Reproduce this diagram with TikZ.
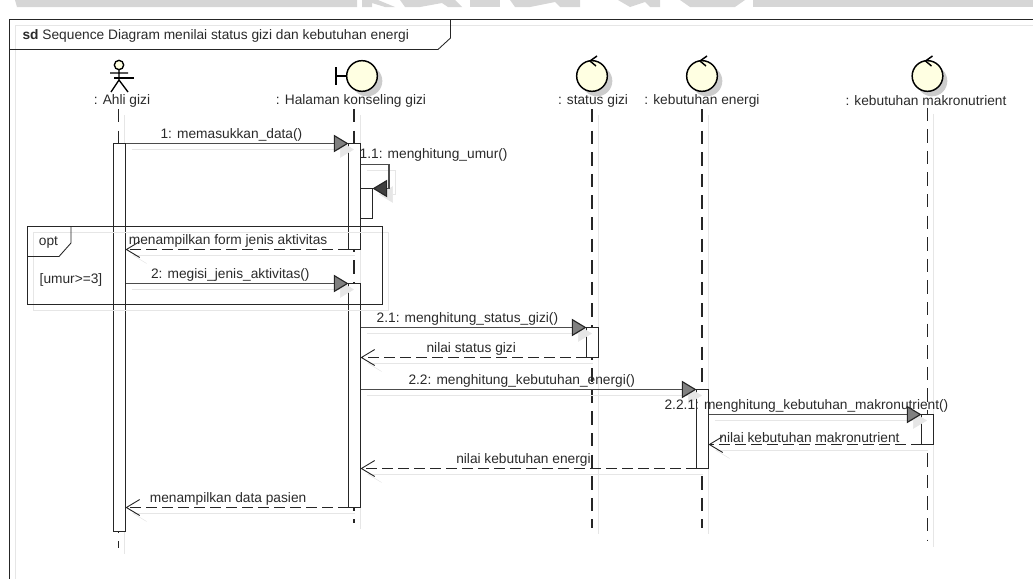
\documentclass[tikz,border=0pt]{standalone}
\usepackage{fontspec}
\setmainfont{Liberation Sans}
\usepackage{xcolor}
\usetikzlibrary{arrows.meta, calc}
\definecolor{band}{HTML}{D6D6D6}
\definecolor{shade}{HTML}{E6E6E6}
\definecolor{ink}{HTML}{2A2A2A}
\definecolor{ball}{HTML}{FFFFE2}

\begin{document}
\begin{tikzpicture}[
    x=0.75pt, y=-0.75pt,
    txt/.style={font=\fontsize{10.3}{12}\selectfont, text=ink, inner sep=1pt},
    msglbl/.style={txt, above, inner sep=1pt},
    frameline/.style={draw=black!85, line width=0.65pt,
        preaction={draw=shade, line width=0.65pt, transform canvas={shift={(4.5pt,-4.5pt)}}}},
    lifeline/.style={draw=black!85, line width=0.85pt, dash pattern=on 10pt off 6.2pt,
        preaction={draw=shade, solid, transform canvas={shift={(4.5pt,-4.5pt)}}}},
    act/.style={draw=black!85, fill=white, line width=0.65pt, anchor=north, outer sep=0pt,
        inner sep=0pt, minimum width=9pt, minimum height=#1*0.75pt},
    msg/.style={draw=black!70, line width=0.85pt,
        -{Triangle[length=11pt, width=13pt, fill=black!50, color=black!85]},
        preaction={draw=shade, -{Triangle[length=11pt, width=13pt, fill=shade, color=shade]},
            transform canvas={shift={(4.5pt,-4.5pt)}}}},
    ret/.style={draw=black!85, line width=0.75pt, dash pattern=on 8pt off 4pt,
        -{Straight Barb[length=10pt, width=12pt, line width=0.7pt]},
        preaction={draw=shade, solid, -{Straight Barb[harpoon, length=10pt, width=12pt, color=shade]},
            transform canvas={shift={(4.5pt,-4.5pt)}}}},
    ctrl/.style={circle, draw=black, line width=1.1pt, fill=ball, inner sep=0pt, minimum size=23pt},
    ballshade/.style={circle, fill=black!20, inner sep=0pt, minimum size=23pt},
]
    \useasboundingbox (0,0) rectangle (1033,579);

    % watermark strip
    \fill[band] (15,0) -- (17,7) -- (357,7) -- (357,0) -- cycle;
    \fill[band] (362,7) -- (372,7) -- (372,3) -- (385,7) -- (395,7) -- (378,0) -- (362,0) -- cycle;
    \fill[band] (400,0) -- (455,0) -- (462,7) -- (448,7) -- (442,3) -- (420,7) -- (405,7) -- cycle;
    \fill[band] (470,0) -- (500,0) -- (500,7) -- (470,7) -- cycle;
    \fill[band] (510,0) -- (580,0) -- (580,7) -- (560,7) -- (555,2) -- (530,7) -- (515,7) -- cycle;
    \fill[band] (618,0) -- (660,0) -- (660,7) -- (650,7) -- (645,2) -- (630,7) -- cycle;
    \fill[band] (680,0) -- (745,0) -- (735,7) -- (690,7) -- cycle;
    \fill[band] (753,0) rectangle (1033,7);

    % frame
    \draw[frameline] (1033,19.5) -- (9.5,19.5) -- (9.5,579);
    \node[txt, anchor=west] (title) at (21,35.5)
        {\textbf{sd} Sequence Diagram menilai status gizi dan kebutuhan energi};
    \draw[draw=black!85, line width=0.65pt] (450.5,19.5) -- (450.5,38) -- (438,49.5) -- (9.5,49.5);

    % objects
    \node[txt] (nameahli)   at (122,101)   {: Ahli gizi};
    \node[txt] (namehal)    at (351,101)   {: Halaman konseling gizi};
    \node[txt] (namestatus) at (593,101)   {: status gizi};
    \node[txt] (nameenergi) at (702,101)   {: kebutuhan energi};
    \node[txt] (namemakro)  at (926,101)   {: kebutuhan makronutrient};

    \draw[shade, line width=0.8pt] (114,78) -- (134,78);
    \draw[black, line width=1pt] (119,69.5) -- (119,80) (110,73) -- (128,73)
        (111,92) -- (119,80) -- (128,92);
    \node[circle, draw=black, line width=1pt, fill=ball, inner sep=0pt, minimum size=7pt] (ahli) at (119,65) {};

    \node[ballshade] at (367,81) {};
    \node[ctrl] (hal) at (362,76) {};
    \draw[black, line width=1.1pt] (336,67) -- (336,85) (336,76) -- (hal.west);

    \node[ballshade] at (597,81) {};
    \node[ctrl] (status) at (592,76) {};
    \node[ballshade] at (707,81) {};
    \node[ctrl] (energi) at (702,76) {};
    \node[ballshade] at (932,81) {};
    \node[ctrl] (makro) at (927.5,76) {};
    \draw[black, line width=1.1pt] (597,56) -- (590,61) -- (596,66);
    \draw[black, line width=1.1pt] (707,56) -- (700,61) -- (706,66);
    \draw[black, line width=1.1pt] (932.5,56) -- (925.5,61) -- (931.5,66);

    % lifelines
    \coordinate (endahli)   at (118.5,548);
    \coordinate (endhal)    at (354,523);
    \coordinate (endstatus) at (592,528);
    \coordinate (endenergi) at (702,528);
    \coordinate (endmakro)  at (927.5,541);
    \draw[lifeline] (endahli |- nameahli.south) -- (endahli);
    \draw[lifeline] (endhal |- namehal.south) -- (endhal);
    \draw[lifeline] (endstatus |- namestatus.south) -- (endstatus);
    \draw[lifeline] (endenergi |- nameenergi.south) -- (endenergi);
    \draw[lifeline] (endmakro |- namemakro.south) -- (endmakro);

    % activations
    \node[act=388] (actahli)   at (119.5,143.5) {};
    \node[act=106] (acthal1)   at (354.5,143.5) {};
    \node[act=224] (acthal2)   at (354.5,283.5) {};
    \node[act=30]  (actself)   at (366.5,188.5) {};
    \node[act=30]  (actstatus) at (592.5,327.5) {};
    \node[act=79]  (actenergi) at (702.5,389.5) {};
    \node[act=30]  (actmakro)  at (927.5,414.5) {};

    % messages
    \draw[msg] (actahli.north east) -- node[msglbl, pos=.475]{1: memasukkan\_data()} (acthal1.north west);
    \coordinate (selfout) at (389,164.5);
    \draw[msg, -{Triangle[length=11pt, width=13pt, fill=black!75, color=black!85]}]
        (acthal1.east |- selfout) -- node[txt, pos=0, anchor=south west, xshift=-2pt, yshift=1pt]{1.1: menghitung\_umur()}
        (selfout) |- (actself.north east);
    \draw[ret] (acthal1.south west) -- node[msglbl, pos=.54]{menampilkan form jenis aktivitas} (actahli.east |- acthal1.south);
    \draw[msg] (actahli.east |- acthal2.north) -- node[msglbl, pos=.47]{2: megisi\_jenis\_aktivitas()} (acthal2.north west);
    \draw[msg] (acthal2.east |- actstatus.north) -- node[msglbl, pos=.473]{2.1: menghitung\_status\_gizi()} (actstatus.north west);
    \draw[ret] (actstatus.south west) -- node[msglbl, pos=.51]{nilai status gizi} (acthal2.east |- actstatus.south);
    \draw[msg] (acthal2.east |- actenergi.north) -- node[msglbl, pos=.48]{2.2: menghitung\_kebutuhan\_energi()} (actenergi.north west);
    \draw[msg] (actenergi.east |- actmakro.north) -- node[msglbl, pos=.46]{2.2.1: menghitung\_kebutuhan\_makronutrient()} (actmakro.north west);
    \draw[ret] (actmakro.south west) -- node[msglbl, pos=.526]{nilai kebutuhan makronutrient} (actenergi.east |- actmakro.south);
    \draw[ret] (actenergi.south west) -- node[msglbl, pos=.515]{nilai kebutuhan energi} (acthal2.east |- actenergi.south);
    \draw[ret] (acthal2.south west) -- node[msglbl, pos=.54]{menampilkan data pasien} (actahli.east |- acthal2.south);

    % opt fragment
    \draw[frameline] (27.5,226.5) rectangle (382.5,304.5);
    \draw[draw=black!85, line width=0.65pt] (27.5,226.5) -- (71,226.5) -- (71,243) -- (59,256.5) -- (27.5,256.5) -- cycle;
    \node[txt] (optname) at (48.5,242) {opt};
    \node[txt] (optcond) at (71,280)   {[umur>=3]};
\end{tikzpicture}
\end{document}
